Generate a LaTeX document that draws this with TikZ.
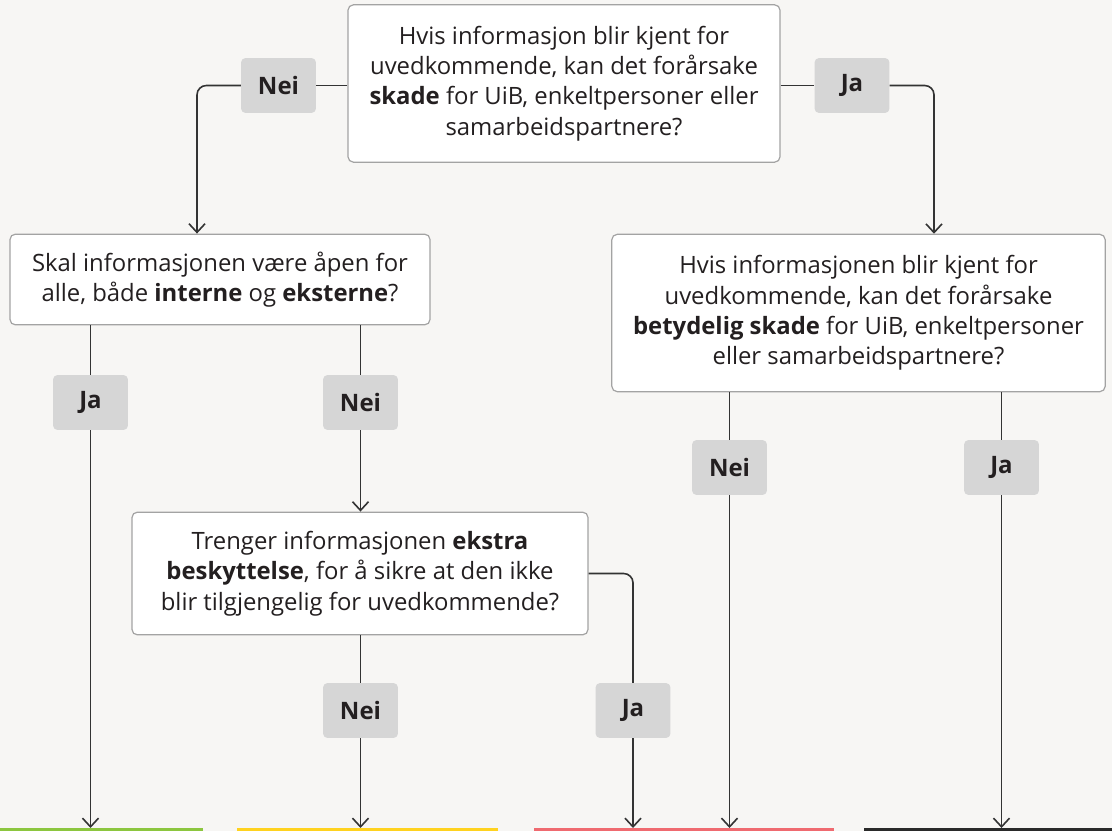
\documentclass[tikz,border=0pt]{standalone}
\usepackage{fontspec}
\setmainfont{Open Sans}
\usetikzlibrary{arrows.meta}
\definecolor{bakgrunn}{HTML}{F7F6F4}
\definecolor{kant}{HTML}{A3A3A3}
\definecolor{svarboks}{HTML}{D6D6D6}
\definecolor{tekst}{HTML}{231F20}
\definecolor{linje}{HTML}{333333}
\definecolor{groenn}{HTML}{8CC63F}
\definecolor{gul}{HTML}{FFD21F}
\definecolor{roed}{HTML}{EF6A70}
\definecolor{svart}{HTML}{2A2A2A}
\tikzset{
    spm/.style={draw=kant, fill=white, rounded corners=4pt, line width=0.9pt,
        align=center, text=tekst, inner sep=0pt,
        font=\fontsize{17.9}{22.8}\selectfont},
    svar/.style={fill=svarboks, rounded corners=3pt, text=tekst, inner sep=0pt,
        minimum width=56pt, minimum height=41pt,
        font=\fontsize{18}{20}\selectfont\bfseries},
    linjestil/.style={draw=linje, line width=1.2pt, rounded corners=7pt},
    pil/.style={linjestil, -{Straight Barb[length=6.5pt,width=12pt,line width=1.2pt]}}
}
\begin{document}
\begin{tikzpicture}[x=0.75pt, y=-0.75pt]
    % bakgrunn
    \fill[bakgrunn] (0,0) rectangle (1112,831);
    \useasboundingbox (0,0) rectangle (1112,831);

    % spørsmål
    \node[spm, minimum width=324pt, minimum height=118pt] (q1) at (564,83.5)
        {Hvis informasjon blir kjent for\\ uvedkommende, kan det forårsake\\
         \textbf{skade} for UiB, enkeltpersoner eller\\ samarbeidspartnere?};
    \node[spm, minimum width=315pt, minimum height=68pt] (q2) at (220,279.5)
        {Skal informasjonen være åpen for\\ alle, både \textbf{interne} og \textbf{eksterne}?};
    \node[spm, minimum width=370pt, minimum height=118pt] (q3) at (858.5,313)
        {Hvis informasjonen blir kjent for\\ uvedkommende, kan det forårsake\\
         \textbf{betydelig skade} for UiB, enkeltpersoner\\ eller samarbeidspartnere?};
    \node[spm, minimum width=342pt, minimum height=92pt] (q4) at (360,573.5)
        {Trenger informasjonen \textbf{ekstra}\\ \textbf{beskyttelse}, for å sikre at den ikke\\
         blir tilgjengelig for uvedkommende?};

    % svar
    \node[svar] (n1) at (278.5,85.5) {Nei};
    \node[svar] (j1) at (852,85.5) {Ja};
    \node[svar] (j2) at (90.5,402.5) {Ja};
    \node[svar] (n2) at (360.5,402.5) {Nei};
    \node[svar] (n3) at (729.5,467.5) {Nei};
    \node[svar] (j3) at (1001.5,467.5) {Ja};
    \node[svar] (n4) at (360.5,710.5) {Nei};
    \node[svar] (j4) at (633,710.5) {Ja};

    % knekkpunkt og endepunkt
    \coordinate (k1) at (197,0);
    \coordinate (k2) at (934,0);
    \coordinate (bunn) at (0,828);

    % piler fra første spørsmål
    \draw[linjestil] (q1.west |- n1) -- (n1.west -| n1.east);
    \draw[pil] (n1.west) -| (q2.north -| k1);
    \draw[linjestil] (q1.east |- j1) -- (j1.west);
    \draw[pil] (j1.east) -| (q3.north -| k2);

    % piler fra de andre spørsmålene
    \foreach \q/\s in {q2/j2, q2/n2, q3/n3, q3/j3, q4/n4} {
        \draw[linjestil] (\q.south -| \s) -- (\s.north);
    }
    \draw[pil] (n2.south) -- (q4.north -| n2);
    \draw[linjestil] (q4.east) -| (j4.north);
    \foreach \s in {j2, n4, j4, n3, j3} {
        \draw[pil] (\s.south) -- (bunn -| \s);
    }

    % fargestriper
    \fill[groenn] (0,828) rectangle (203,831);
    \fill[gul] (237,828) rectangle (498,831);
    \fill[roed] (534,828) rectangle (834,831);
    \fill[svart] (864,828) rectangle (1112,831);
\end{tikzpicture}
\end{document}
